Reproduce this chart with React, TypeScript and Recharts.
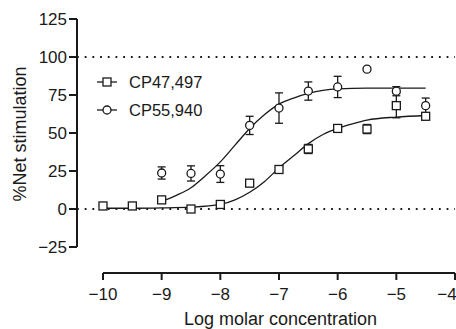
import React from 'react';
import {
  ComposedChart, Line, Scatter, XAxis, YAxis, ReferenceLine, ErrorBar, Legend, Label,
} from 'recharts';

// Concentrations (log M)
const cp47X = [-10, -9.5, -9, -8.5, -8, -7.5, -7, -6.5, -6, -5.5, -5, -4.5];
const cp47Y = [2, 2, 6, 0, 3, 17, 26, 39.5, 53, 52.6, 68, 61];
const cp47Err = [1, 1, 1.5, 1, 1, 2, 1, 3, 2, 3, 8, 2];

const cp55X = [-9, -8.5, -8, -7.5, -7, -6.5, -6, -5.5, -5, -4.5];
const cp55Y = [23.7, 23.4, 23, 55, 66.4, 77.6, 80.3, 92, 77.5, 68];
const cp55Err = [4, 5, 5.5, 6, 10, 6, 7, 1, 3, 5];

// Fitted curves
const fit47X = [-10, -9.5, -9, -8.5, -8, -7.75, -7.5, -7.25, -7, -6.75, -6.5, -6.25, -6, -5.75, -5.5, -5, -4.5];
const fit47Y = [0.5, 0.5, 0.7, 1.2, 3, 6, 11, 18, 27, 35, 43, 49, 53, 56, 58.5, 60.5, 61.5];

const fit55X = [-9, -8.75, -8.5, -8.25, -8, -7.75, -7.5, -7.25, -7, -6.75, -6.5, -6.25, -6, -5.5, -5, -4.5];
const fit55Y = [5, 9, 14, 22, 31, 42, 53, 62, 69, 73, 76, 78, 79, 79.5, 79.5, 79.5];

const xTicks = [-10, -9, -8, -7, -6, -5, -4];
const yTicks = [-25, 0, 25, 50, 75, 100, 125];
const seriesNames = ['CP47,497', 'CP55,940'];

const X_MIN = -10.443;
const Y_MIN = -42.1;

const toPts = (xs: number[], ys: number[], errs?: number[]) =>
  xs.map((x, i) => ({ x, y: ys[i], err: errs ? errs[i] : 0 }));

const d47 = toPts(cp47X, cp47Y, cp47Err);
const d55 = toPts(cp55X, cp55Y, cp55Err);
const f47 = toPts(fit47X, fit47Y);
const f55 = toPts(fit55X, fit55Y);

const INK = '#1a1a1a';
const FONT = '"Liberation Sans", Arial, Helvetica, sans-serif';

const SquareShape = (p: any) => (
  <rect x={p.cx - 4} y={p.cy - 4} width={8} height={8} fill="#fff" stroke={INK} strokeWidth={1.3} />
);
const CircleShape = (p: any) => (
  <circle cx={p.cx} cy={p.cy} r={4} fill="#fff" stroke={INK} strokeWidth={1.3} />
);

const fmt = (v: number) => (v < 0 ? '\u2212' + Math.abs(v) : String(v));

const LegendContent = () => (
  <div style={{ fontFamily: FONT, fontSize: 16.5, color: INK }}>
    {seriesNames.map((name, i) => (
      <div key={name} style={{ display: 'flex', alignItems: 'center', height: 28 }}>
        <svg width={34} height={16} style={{ display: 'block' }}>
          <line x1={7} y1={8} x2={27} y2={8} stroke={INK} strokeWidth={1.3} />
          {i === 0 ? (
            <rect x={13} y={4} width={8} height={8} fill="#fff" stroke={INK} strokeWidth={1.3} />
          ) : (
            <circle cx={17} cy={8} r={4} fill="#fff" stroke={INK} strokeWidth={1.3} />
          )}
        </svg>
        <span style={{ paddingLeft: 5, lineHeight: '28px' }}>{name}</span>
      </div>
    ))}
  </div>
);

export default function App() {
  return (
    <div style={{ position: 'absolute', left: 0, top: 0, background: '#fff' }}>
      <ComposedChart
        width={456}
        height={329}
        margin={{ top: 19, right: 1, bottom: 0, left: 0 }}
        style={{ fontFamily: FONT }}
      >
        <XAxis
          type="number"
          dataKey="x"
          domain={[X_MIN, -4]}
          ticks={xTicks}
          allowDataOverflow
          height={56}
          axisLine={false}
          tickLine={{ stroke: INK, strokeWidth: 2 }}
          tickSize={7}
          tickMargin={8}
          tickFormatter={fmt}
          tick={{ fill: INK, fontSize: 17, fontFamily: FONT }}
        >
          <Label
            content={() => (
              <text x={280.5} y={325} textAnchor="middle" fill={INK} fontSize={18} fontFamily={FONT}>
                Log molar concentration
              </text>
            )}
          />
        </XAxis>
        <YAxis
          type="number"
          dataKey="y"
          domain={[Y_MIN, 125]}
          ticks={yTicks}
          allowDataOverflow
          width={77}
          axisLine={false}
          tickLine={{ stroke: INK, strokeWidth: 2 }}
          tickSize={8}
          tickMargin={2}
          tickFormatter={fmt}
          tick={{ fill: INK, fontSize: 17, fontFamily: FONT }}
        >
          <Label
            content={() => (
              <text
                x={20}
                y={134}
                transform="rotate(-90 20 134)"
                textAnchor="middle"
                dominantBaseline="central"
                fill={INK}
                fontSize={18}
                fontFamily={FONT}
              >
                %Net stimulation
              </text>
            )}
          />
        </YAxis>
        <ReferenceLine y={100} stroke={INK} strokeWidth={2} strokeDasharray="1.8 5.9" ifOverflow="visible" />
        <ReferenceLine y={0} stroke={INK} strokeWidth={2} strokeDasharray="1.8 5.9" ifOverflow="visible" />
        <ReferenceLine
          segment={[{ x: X_MIN, y: -25 }, { x: X_MIN, y: 125 }]}
          stroke={INK}
          strokeWidth={2}
          ifOverflow="visible"
        />
        <ReferenceLine
          segment={[{ x: -10, y: Y_MIN }, { x: -4, y: Y_MIN }]}
          stroke={INK}
          strokeWidth={2}
          ifOverflow="visible"
        />
        <Line data={f47} dataKey="y" type="monotone" stroke={INK} strokeWidth={1.3} dot={false} isAnimationActive={false} legendType="none" />
        <Line data={f55} dataKey="y" type="monotone" stroke={INK} strokeWidth={1.3} dot={false} isAnimationActive={false} legendType="none" />
        <Scatter data={d47} dataKey="y" name={seriesNames[0]} shape={SquareShape} isAnimationActive={false}>
          <ErrorBar dataKey="err" direction="y" width={4} stroke={INK} strokeWidth={1.3} />
        </Scatter>
        <Scatter data={d55} dataKey="y" name={seriesNames[1]} shape={CircleShape} isAnimationActive={false}>
          <ErrorBar dataKey="err" direction="y" width={4} stroke={INK} strokeWidth={1.3} />
        </Scatter>
        <Legend
          layout="vertical"
          align="center"
          verticalAlign="middle"
          content={LegendContent}
          wrapperStyle={{ left: 90, top: 68, width: 160, height: 56 }}
        />
      </ComposedChart>
    </div>
  );
}
